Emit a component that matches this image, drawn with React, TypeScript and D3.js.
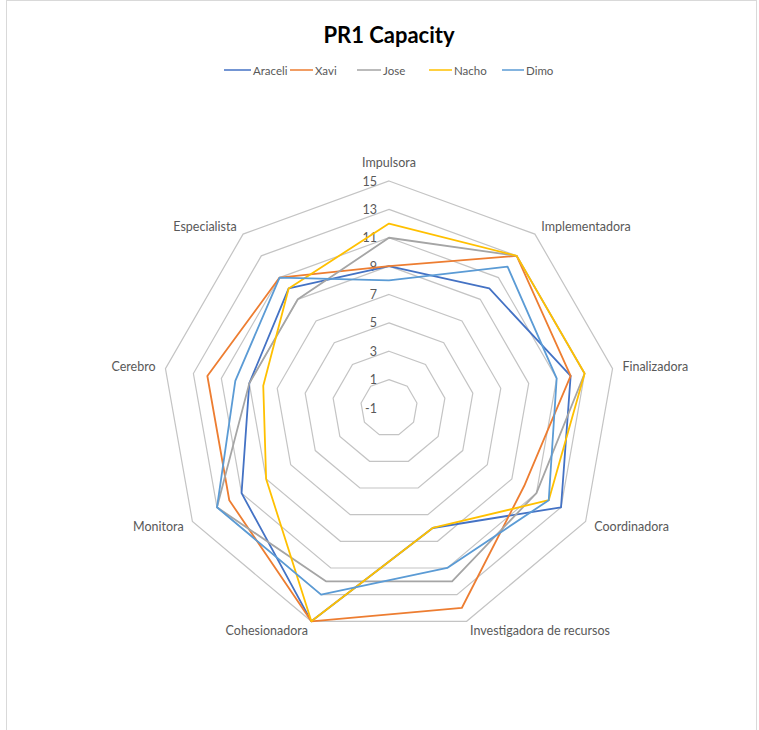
import React from "react";
import * as d3 from "d3";

const categories = [
  "Impulsora",
  "Implementadora",
  "Finalizadora",
  "Coordinadora",
  "Investigadora de recursos",
  "Cohesionadora",
  "Monitora",
  "Cerebro",
  "Especialista",
];

const seriesNames = ["Araceli", "Xavi", "Jose", "Nacho", "Dimo"];
const seriesColors = ["#4472C4", "#ED7D31", "#A5A5A5", "#FFC000", "#5B9BD5"];

const araceli = [9, 10, 12, 13, 8, 15, 11, 9, 10];
const xavi = [9, 13, 12, 10, 14, 15, 12, 12, 11];
const jose = [11, 13, 13, 11, 12, 12, 13, 9, 9];
const nacho = [12, 13, 13, 12, 8, 15, 9, 8, 10];
const dimo = [8, 12, 11, 12, 11, 13, 13, 10, 11];

const seriesValues = [araceli, xavi, jose, nacho, dimo];
const tickValues = [-1, 1, 3, 5, 7, 9, 11, 13, 15];

const W = 759;
const H = 730;
const cx = 389;
const cy = 408;
const R = 227;

export default function App() {
  const r = d3.scaleLinear().domain([-1, 15]).range([0, R]);
  const n = categories.length;
  const angle = (i: number) => (i * 2 * Math.PI) / n;
  const pt = (i: number, v: number): [number, number] => {
    const a = angle(i);
    const rr = r(v);
    return [cx + rr * Math.sin(a), cy - rr * Math.cos(a)];
  };
  const closed = d3.line<[number, number]>().curve(d3.curveLinearClosed);

  const legendItems = [
    { lx: 224, tx: 253 },
    { lx: 290, tx: 315 },
    { lx: 357, tx: 383 },
    { lx: 429, tx: 454 },
    { lx: 502, tx: 526 },
  ];

  const font = "Lato, 'Open Sans', sans-serif";

  return (
    <svg
      width={W}
      height={H}
      style={{ position: "absolute", left: 0, top: 0, background: "#fff" }}
    >
      <rect x={6.5} y={0.5} width={750} height={745} fill="#fff" stroke="#D9D9D9" />
      <text
        x={389}
        y={43}
        textAnchor="middle"
        fontFamily={font}
        fontWeight={700}
        fontSize={22}
        fill="#000"
      >
        PR1 Capacity
      </text>
      {seriesNames.map((s, k) => (
        <g key={s}>
          <line
            x1={legendItems[k].lx}
            x2={legendItems[k].tx - 2}
            y1={70}
            y2={70}
            stroke={seriesColors[k]}
            strokeWidth={1.5}
          />
          <text
            x={legendItems[k].tx}
            y={70}
            dominantBaseline="central"
            fontFamily={font}
            fontSize={11.5}
            fill="#595959"
          >
            {s}
          </text>
        </g>
      ))}
      {tickValues
        .filter((t) => t > -1)
        .map((t) => (
          <path
            key={t}
            d={closed(categories.map((_, i) => pt(i, t))) || ""}
            fill="none"
            stroke="#C4C4C4"
            strokeWidth={1.2}
          />
        ))}
      {tickValues.map((t) => (
        <text
          key={"t" + t}
          x={377}
          y={cy - r(t)}
          textAnchor="end"
          dominantBaseline="central"
          fontFamily={font}
          fontSize={12.5}
          fill="#595959"
        >
          {t}
        </text>
      ))}
      {categories.map((c, i) => {
        const a = angle(i);
        const s = Math.sin(a);
        const co = Math.cos(a);
        if (i === 0) {
          return (
            <text
              key={c}
              x={cx}
              y={cy - R - 19}
              textAnchor="middle"
              dominantBaseline="central"
              fontFamily={font}
              fontSize={12.5}
              fill="#595959"
            >
              {c}
            </text>
          );
        }
        const x = cx + (R + 10) * s;
        const y = cy - (R + 10) * co;
        return (
          <text
            key={c}
            x={x}
            y={y}
            textAnchor={s > 0.01 ? "start" : "end"}
            dominantBaseline="central"
            fontFamily={font}
            fontSize={12.5}
            fill="#595959"
          >
            {c}
          </text>
        );
      })}
      {seriesValues.map((vals, k) => (
        <path
          key={seriesNames[k]}
          d={closed(vals.map((v, i) => pt(i, v))) || ""}
          fill="none"
          stroke={seriesColors[k]}
          strokeWidth={1.8}
          strokeLinejoin="round"
        />
      ))}
    </svg>
  );
}
